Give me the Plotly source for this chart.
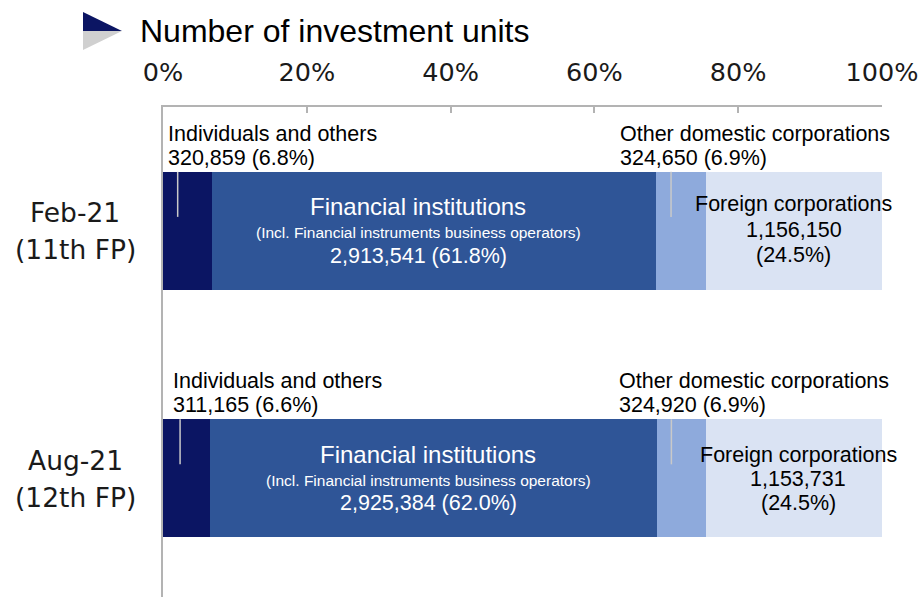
import plotly.graph_objects as go

# Investor breakdown of investment units by fiscal period
periods = ["Feb-21", "Aug-21"]
period_notes = ["(11th FP)", "(12th FP)"]
investor_types = [
    "Individuals and others",
    "Financial institutions",
    "Other domestic corporations",
    "Foreign corporations",
]
units_individuals = [320859, 311165]
units_financial = [2913541, 2925384]
units_other_domestic = [324650, 324920]
units_foreign = [1156150, 1153731]
financial_note = "(Incl. Financial instruments business operators)"
tick_values = [0, 20, 40, 60, 80, 100]
tick_labels = ["0%", "20%", "40%", "60%", "80%", "100%"]

colors = ["#0b1563", "#2f5597", "#8eaadc", "#dae3f3"]
series = [units_individuals, units_financial, units_other_domestic, units_foreign]
totals = [sum(s[i] for s in series) for i in range(len(periods))]
shares = [[s[i] / totals[i] * 100 for i in range(len(periods))] for s in series]

LABEL_FONT = "Liberation Sans, Arial, sans-serif"
AXIS_FONT = "DejaVu Sans, Verdana, sans-serif"
BAR_W = 0.476
W, H = 924, 599
ML, MR, MT, MB = 163, 42, 107, 2
LBL = 21.5

fig = go.Figure()
for name, share, color in zip(investor_types, shares, colors):
    fig.add_trace(go.Bar(
        y=list(range(len(periods))), x=share, name=name, orientation="h",
        marker=dict(color=color, line=dict(width=0)), width=BAR_W,
        hoverinfo="skip", showlegend=False,
    ))

annotations = []
shapes = []


def ann(text, x, y, size, color="#000000", xanchor="center", yshift=0, family=LABEL_FONT, xref="x", yref="y"):
    annotations.append(dict(
        text=text, x=x, y=y, xref=xref, yref=yref, showarrow=False,
        xanchor=xanchor, yanchor="middle", yshift=yshift,
        font=dict(family=family, size=size, color=color),
    ))


def fmt(v):
    return f"{v:,}"


for i, per in enumerate(periods):
    starts = []
    acc = 0
    for s in shares:
        starts.append(acc)
        acc += s[i]
    top = i - BAR_W / 2

    # category labels to the left of the axis
    ann(per, -0.122, i, 26.5, "#1a1a1a", family=AXIS_FONT, yshift=18, xref="paper")
    ann(period_notes[i], -0.122, i, 26.5, "#1a1a1a", family=AXIS_FONT, yshift=-19, xref="paper")

    # individuals (label above the bar)
    ind_x = [0.45, 1.15][i]
    ann(investor_types[0], ind_x, top, LBL, xanchor="left", yshift=38)
    ann(f"{fmt(units_individuals[i])} ({shares[0][i]:.1f}%)", ind_x, top, LBL, xanchor="left", yshift=14)

    # financial institutions (inside the bar)
    fx = starts[1] + shares[1][i] / 2 + [-2.2, -0.7][i]
    ann(investor_types[1], fx, i, 24, "#ffffff", yshift=24)
    ann(financial_note, fx, i, 15.5, "#ffffff", yshift=-2)
    ann(f"{fmt(units_financial[i])} ({shares[1][i]:.1f}%)", fx, i, LBL, "#ffffff", yshift=-25)

    # other domestic corporations (label above the bar)
    od_x = [63.25, 63.15][i]
    ann(investor_types[2], od_x, top, LBL, xanchor="left", yshift=38)
    ann(f"{fmt(units_other_domestic[i])} ({shares[2][i]:.1f}%)", od_x, top, LBL, xanchor="left", yshift=14)

    # foreign corporations (inside the bar)
    fox = starts[3] + shares[3][i] / 2 + [0.0, 0.6][i]
    ann(investor_types[3], fox, i, LBL, yshift=[27, 23][i])
    ann(fmt(units_foreign[i]), fox, i, LBL, yshift=[1, -1][i])
    ann(f"({shares[3][i]:.1f}%)", fox, i, LBL, yshift=[-24, -25][i])

    # leader lines from the labels into the small segments
    for k, frac in ((0, [0.3, 0.36][i]), (2, 0.3)):
        lx = starts[k] + shares[k][i] * frac
        shapes.append(dict(type="line", xref="x", yref="y", x0=lx, x1=lx,
                           y0=top, y1=top + 0.182,
                           line=dict(color="#c9c9c9", width=1.5)))

# title marker: right-pointing triangle, dark upper half and grey lower half
pw, ph = W - ML - MR, H - MT - MB


def px(x):
    return (x - ML) / pw


def py(y):
    return (H - MB - y) / ph


shapes.append(dict(type="path", xref="paper", yref="paper",
                   path=f"M {px(83)} {py(12)} L {px(122)} {py(31)} L {px(83)} {py(31)} Z",
                   fillcolor="#0b1563", line=dict(width=0)))
shapes.append(dict(type="path", xref="paper", yref="paper",
                   path=f"M {px(83)} {py(31)} L {px(122)} {py(31)} L {px(83)} {py(50)} Z",
                   fillcolor="#d0d0d0", line=dict(width=0)))

fig.update_layout(
    barmode="stack",
    width=W, height=H,
    margin=dict(l=ML, r=MR, t=MT, b=MB),
    paper_bgcolor="white", plot_bgcolor="white",
    title=dict(text="Number of investment units", x=140 / W, xanchor="left",
               y=1 - 31 / H, yanchor="middle",
               font=dict(family=LABEL_FONT, size=32, color="#000000")),
    xaxis=dict(range=[0, 100], side="top", tickvals=tick_values, ticktext=tick_labels,
               ticks="inside", ticklen=6, tickwidth=1.5, tickcolor="#b3b3b3",
               showline=True, linecolor="#b3b3b3", linewidth=1.5,
               showgrid=False, zeroline=False, ticklabelstandoff=14,
               tickfont=dict(family=AXIS_FONT, size=25.5, color="#1a1a1a"),
               fixedrange=True),
    yaxis=dict(range=[len(periods) - 0.52, -0.5], showticklabels=False,
               showline=True, linecolor="#b3b3b3", linewidth=1.5,
               showgrid=False, zeroline=False, ticks="", fixedrange=True),
    annotations=annotations,
    shapes=shapes,
)

fig.write_html("out.html")
